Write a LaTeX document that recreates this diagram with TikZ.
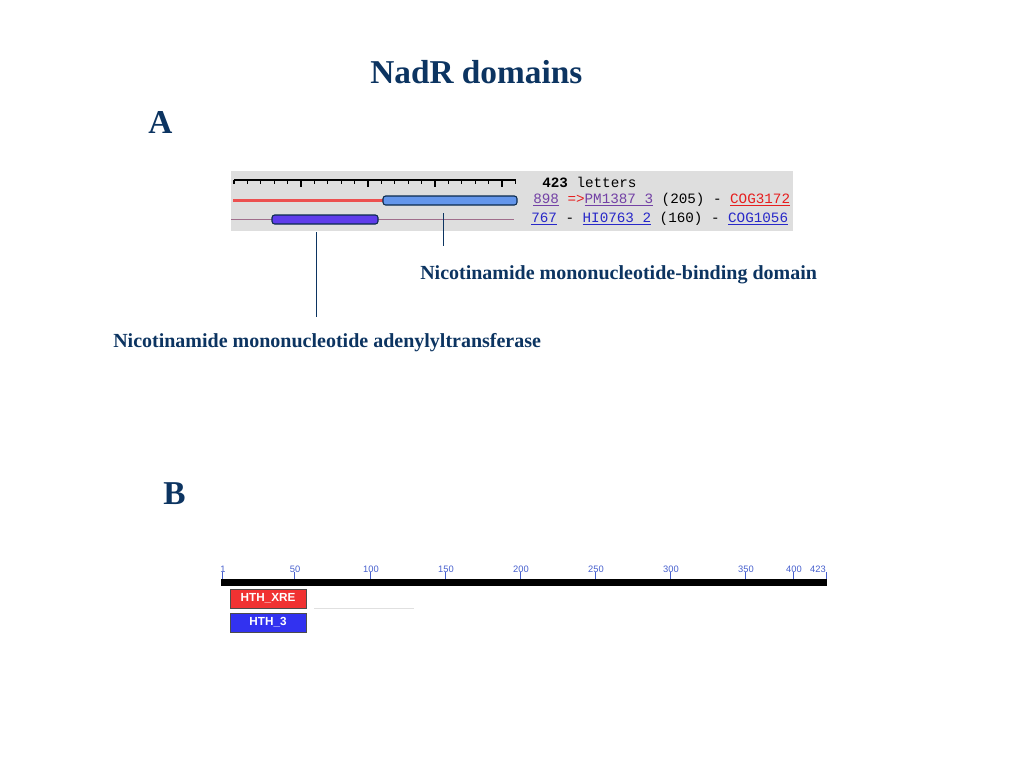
\documentclass[tikz,border=0pt]{standalone}
\usepackage{fontspec}
\setmainfont{Liberation Serif}
\newfontfamily\monofont{Liberation Mono}
\newfontfamily\tickfont{Liberation Sans}
\usepackage{tikz}
\usetikzlibrary{positioning}
\definecolor{NRNavy}{RGB}{12,52,97}
\definecolor{NRPanel}{RGB}{222,222,222}
\definecolor{NRRed}{RGB}{236,80,80}
\definecolor{NRSky}{RGB}{100,150,235}
\definecolor{NRViolet}{RGB}{95,60,235}
\definecolor{NRMauve}{RGB}{160,110,140}
\definecolor{NRVisited}{RGB}{115,65,165}
\definecolor{NRLink}{RGB}{40,40,200}
\definecolor{NRLinkRed}{RGB}{230,30,30}
\definecolor{NRTick}{RGB}{70,95,205}
\definecolor{NRXre}{RGB}{240,50,50}
\definecolor{NRHth}{RGB}{50,50,240}

\begin{document}
\begin{tikzpicture}[x=0.75pt, y=-0.75pt,
          heading/.style={text=NRNavy, font=\fontsize{25}{28}\selectfont\bfseries,
                          inner sep=0pt, anchor=base west},
          caption/.style={text=NRNavy, font=\fontsize{15}{17}\selectfont\bfseries,
                          inner sep=0pt, anchor=base west},
          hit/.style={rectangle, rounded corners=2pt, draw=NRNavy!80!black,
                      line width=0.8pt, inner sep=0pt, minimum height=6.75pt},
          hitline/.style={inner sep=0pt, anchor=base west,
                          font=\monofont\fontsize{10.7}{12}\selectfont},
          dombox/.style={rectangle, draw=black!70, line width=0.6pt, text=white,
                         minimum width=57pt, minimum height=14.25pt, inner sep=0pt,
                         font=\tickfont\fontsize{8.8}{10}\selectfont\bfseries},
          leader/.style={NRNavy, line width=0.7pt},
          ticklabel/.style={text=NRTick, inner sep=0pt, anchor=base,
                            font=\tickfont\fontsize{7}{8}\selectfont}
        ]
        \useasboundingbox (0,0) rectangle (1024,768);

        % Headings
        \node[heading] (title) at (370, 83) {NadR domains};
        \node[heading] (pa) at (148, 133) {A};
        \node[heading] (pb) at (163, 504) {B};

        % Panel A: hit list
        \fill[NRPanel] (231,171) rectangle (793,231);
        \draw[line width=0.9pt] (234,180) -- (516,180);
        \foreach \k in {0,...,21} {
          \pgfmathsetmacro{\tlen}{ifthenelse(mod(\k,5)==0 && \k>0, 7, 3.5)}
          \draw[line width=0.8pt] (234+13.4*\k,180) -- ++(0,\tlen);
        }
        \draw[NRRed, line width=1.6pt] (233,200.5) -- (383,200.5);
        \draw[NRMauve, line width=0.8pt] (231,219.5) -- (514,219.5);
        \node[hit, fill=NRSky, minimum width=100.5pt] (nmbd) at (450,200.5) {};
        \node[hit, fill=NRViolet, minimum width=79.5pt] (nmat) at (325,219.5) {};

        \node[hitline] (len) at (542,187) {\textbf{423} letters};
        \node[hitline] (row1) at (533,203.5)
              {\textcolor{NRVisited}{\underline{898}}
               \textcolor{NRLinkRed}{=>}\textcolor{NRVisited}{\underline{PM1387 3}}
               (205) - \textcolor{NRLinkRed}{\underline{COG3172}}};
        \node[hitline] (row2) at (531,222.5)
              {\textcolor{NRLink}{\underline{767}} -
               \textcolor{NRLink}{\underline{HI0763 2}}
               (160) - \textcolor{NRLink}{\underline{COG1056}}};

        % Labels
        \node[caption] (bindlbl) at (420,279) {Nicotinamide mononucleotide-binding domain};
        \node[caption] (adenlbl) at (113,347) {Nicotinamide mononucleotide adenylyltransferase};
        \coordinate (bindtop) at (443,213);
        \coordinate (bindend) at (443,246);
        \coordinate (adentop) at (316,232);
        \coordinate (adenend) at (316,317);
        \draw[leader] (bindtop) -- (bindend);
        \draw[leader] (adentop) -- (adenend);

        % Panel B: domain map
        \fill[black] (221,579) rectangle (827,586);
        \foreach \pos/\num in {222/1, 294/50, 370/100, 445/150, 520/200,
                               595/250, 670/300, 745/350, 793/400} {
          \draw[NRTick, line width=0.6pt] (\pos,572) -- (\pos,579);
          \node[ticklabel] at (\pos+1,572) {\num};
        }
        \draw[NRTick, line width=0.6pt] (826,572) -- (826,579);
        \node[ticklabel, anchor=base east] at (826,572) {423};

        \node[dombox, fill=NRXre] (xre) at (268,598.5) {HTH\_XRE};
        \node[dombox, fill=NRHth] (hth) at (268,622.5) {HTH\_3};
        \draw[black!12, line width=0.6pt] (314,608) -- (414,608);
      \end{tikzpicture}
\end{document}
